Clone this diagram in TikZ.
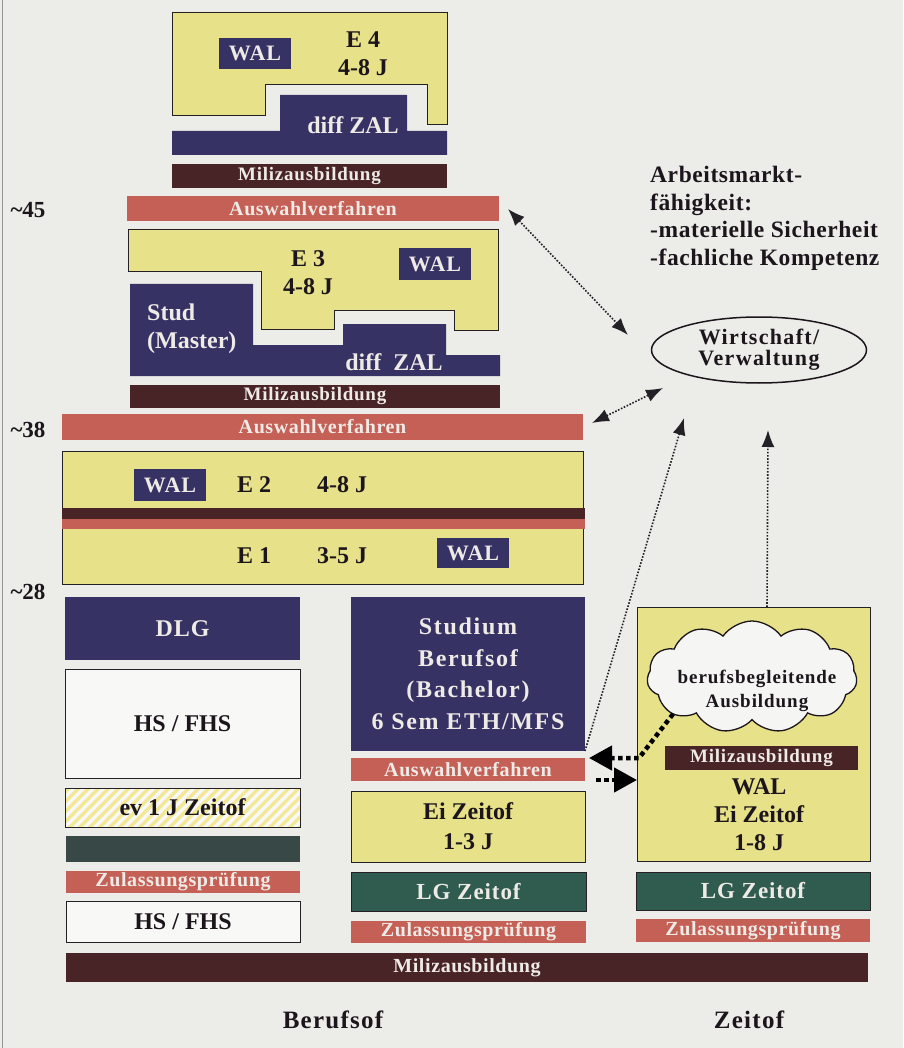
\documentclass[tikz,border=0pt]{standalone}
\usepackage{fontspec}
\setmainfont{Liberation Serif}
\usetikzlibrary{shapes.geometric,shapes.symbols,arrows.meta}
\newcommand\tf[3]{\fontsize{#1}{#2}\selectfont\bfseries\addfontfeatures{LetterSpace=#3}}
\definecolor{cbg}{RGB}{236,236,232}
\definecolor{cyel}{RGB}{231,225,138}
\definecolor{cnav}{RGB}{55,50,100}
\definecolor{cbrn}{RGB}{72,36,38}
\definecolor{cred}{RGB}{196,96,86}
\definecolor{cgrn}{RGB}{48,92,80}
\definecolor{cslate}{RGB}{55,72,70}
\definecolor{cline}{RGB}{35,32,38}
\definecolor{cwht}{RGB}{248,248,246}
\definecolor{ctl}{RGB}{238,234,230}
\definecolor{ctd}{RGB}{28,22,28}
\definecolor{ccloud}{RGB}{245,245,243}
\definecolor{chatch}{RGB}{242,232,150}
\definecolor{cborder}{RGB}{150,150,150}
\tikzset{
  bx/.style={rectangle, inner sep=0pt, outer sep=0pt, anchor=north west, align=center},
  yelbox/.style={bx, fill=cyel, draw=cline, line width=0.8pt, text=ctd, font=\tf{24}{28}{0}},
  navbox/.style={bx, fill=cnav, text=ctl, font=\tf{22}{26}{5}},
  whtbox/.style={bx, fill=cwht, draw=cline, line width=0.8pt, text=ctd, font=\tf{24}{28}{0}},
  brnbar/.style={bx, fill=cbrn, text=ctl, font=\tf{19}{22}{4}},
  redbar/.style={bx, fill=cred, text=ctl, font=\tf{20}{22}{3}},
  grnbar/.style={bx, fill=cgrn, draw=cline, line width=0.6pt, text=ctl, font=\tf{23}{26}{4}},
  lbl/.style={text=ctd, font=\tf{24}{28}{0}, inner sep=0pt, align=center},
  yelshape/.style={fill=cyel, draw=cline, line width=0.8pt},
  thin dots/.style={draw=cline, line width=1.6pt, dash pattern=on 1.6pt off 1.6pt},
  thin arrow/.style={thin dots, -{Latex[length=17pt,width=13pt]}},
  thin dbl/.style={thin dots, {Latex[length=17pt,width=13pt]}-{Latex[length=17pt,width=13pt]}},
  thick arrow/.style={draw=black, line width=4.5pt, dash pattern=on 4.5pt off 3.5pt, -{Triangle[length=23pt,width=24pt]}},
}
\begin{document}
\begin{tikzpicture}[x=1pt,y=-1pt]
\useasboundingbox (0,0) rectangle (903,1048);
\fill[cbg] (0,0) rectangle (903,1048);
\draw[cborder, line width=1pt] (2.5,0) -- (2.5,1048);

% ---------- E4 ----------
\path[yelshape] (172,12) -- (447,12) -- (447,124) -- (427,124) -- (427,84) -- (265,84) -- (265,115) -- (172,115) -- cycle;
\node[navbox, minimum width=72, minimum height=31] (e4wal) at (219,38) {WAL};
\node[lbl] (e4t) at (363,54) {E 4\\4-8 J};
\fill[cnav] (172,131) -- (280,131) -- (280,95) -- (407,95) -- (407,131) -- (447,131) -- (447,155) -- (172,155) -- cycle;
\node[lbl, text=ctl] (e4zal) at (353,125) {diff ZAL};
\node[brnbar, minimum width=275, minimum height=24] (e4miliz) at (172,164) {Milizausbildung};
\node[redbar, minimum width=372, minimum height=25] (aus45) at (127,196) {Auswahlverfahren};
\node[lbl, font=\tf{23}{26}{0}] (l45) at (28,210) {\textasciitilde 45};

% ---------- E3 ----------
\path[yelshape] (128,229) -- (498,229) -- (498,330) -- (454,330) -- (454,310) -- (334,310) -- (334,329) -- (261,329) -- (261,271) -- (128,271) -- cycle;
\node[navbox, minimum width=72, minimum height=32] (e3wal) at (399,248) {WAL};
\node[lbl] (e3t) at (308,273) {E 3\\4-8 J};
\fill[cnav] (130,284) -- (253,284) -- (253,345) -- (343,345) -- (343,324) -- (446,324) -- (446,355) -- (500,355) -- (500,376) -- (130,376) -- cycle;
\node[lbl, text=ctl, align=left, anchor=west] (stud) at (147,329) {Stud\\(Master)};
\node[lbl, text=ctl] (e3zal) at (394,362) {diff\enspace ZAL};
\node[brnbar, minimum width=370, minimum height=23] (e3miliz) at (130,385) {Milizausbildung};
\node[redbar, minimum width=521, minimum height=26] (aus38) at (62,414) {Auswahlverfahren};
\node[lbl, font=\tf{23}{26}{0}] (l38) at (28,430) {\textasciitilde 38};

% ---------- E2 / E1 ----------
\node[yelbox, minimum width=521, minimum height=133] (e21) at (62,451) {};
\fill[cbrn] (62,508) rectangle (585,519);
\fill[cred] (62,519) rectangle (585,529);
\node[navbox, minimum width=72, minimum height=32] (e2wal) at (134,469) {WAL};
\node[lbl] (e2) at (254,485) {E 2};
\node[lbl] (e2j) at (342,485) {4-8 J};
\node[lbl] (e1) at (254,556) {E 1};
\node[lbl] (e1j) at (342,556) {3-5 J};
\node[navbox, minimum width=72, minimum height=30] (e1wal) at (437,538) {WAL};
\node[lbl, font=\tf{23}{26}{0}] (l28) at (28,592) {\textasciitilde 28};

% ---------- left column ----------
\node[navbox, font=\tf{24}{28}{4}, minimum width=235, minimum height=63] (dlg) at (65,597) {DLG};
\node[whtbox, minimum width=235, minimum height=109] (hs1) at (65,669) {HS / FHS};
\node[whtbox, fill=cwht, minimum width=235, minimum height=39] (ev) at (65,788) {};
\begin{scope}
\clip (65,788) rectangle (300,827);
\foreach \i in {0,...,30} {\draw[chatch, line width=3.2pt] (25+\i*10,832) -- ++(48,-48);}
\end{scope}
\draw[cline, line width=0.8pt] (65,788) rectangle (300,827);
\node[lbl] (evt) at (ev.center) {ev 1 J Zeitof};
\node[bx, fill=cslate, minimum width=234, minimum height=26] (grnl) at (66,836) {};
\node[redbar, minimum width=234, minimum height=22] (zull) at (66,871) {Zulassungsprüfung};
\node[whtbox, minimum width=234, minimum height=41] (hs2) at (66,901) {HS / FHS};

% ---------- middle column ----------
\node[navbox, font=\tf{24}{31.5}{7}, minimum width=234, minimum height=154] (studium) at (351,597) {Studium\\Berufsof\\(Bachelor)\\6 Sem ETH/MFS};
\node[redbar, minimum width=234, minimum height=23] (ausm) at (351,758) {Auswahlverfahren};
\node[yelbox, font=\tf{24}{30}{0}, minimum width=234, minimum height=71] (eim) at (351,791) {Ei Zeitof\\1-3 J};
\node[grnbar, minimum width=235, minimum height=39] (lgm) at (351,872) {LG Zeitof};
\node[redbar, minimum width=235, minimum height=22] (zulm) at (351,921) {Zulassungsprüfung};

% ---------- right column ----------
\node[yelbox, minimum width=233, minimum height=254] (eir) at (637,607) {};
\node[cloud, cloud puffs=11, cloud puff arc=110, aspect=1.85, draw=ctd, line width=1.3pt, fill=ccloud,
      minimum width=210, minimum height=112, inner sep=0pt] (cloud) at (752,677) {};
\node[lbl, font=\tf{19}{24}{5}] (cloudt) at (757,691) {berufsbegleitende\\Ausbildung};
\node[brnbar, minimum width=193, minimum height=24] (mzr) at (665,746) {Milizausbildung};
\node[lbl, font=\tf{24}{28}{0}] (eirt) at (759,815) {WAL\\Ei Zeitof\\1-8 J};
\node[grnbar, minimum width=234, minimum height=38] (lgr) at (636,872) {LG Zeitof};
\node[redbar, minimum width=234, minimum height=23] (zulr) at (636,919) {Zulassungsprüfung};

% ---------- bottom ----------
\node[brnbar, font=\tf{20}{22}{3}, minimum width=802, minimum height=29] (mzb) at (66,953) {Milizausbildung};
\node[lbl, font=\tf{25}{28}{5}] (berufsof) at (333,1020) {Berufsof};
\node[lbl, font=\tf{25}{28}{5}] (zeitof) at (749,1020) {Zeitof};

% ---------- right text ----------
\node[lbl, align=left, anchor=north west, font=\tf{23.5}{27.5}{2.5}] (amf) at (650,166)
  {Arbeitsmarkt-\\fähigkeit:\\-materielle Sicherheit\\-fachliche Kompetenz};
\node[ellipse, draw=ctd, line width=1.5pt, minimum width=215, minimum height=66, inner sep=0pt,
      text=ctd, align=center, font=\tf{22}{21}{6}] (wv) at (759,350) {Wirtschaft/\\Verwaltung};

% ---------- connectors ----------
\coordinate (a1s) at (508,209);
\coordinate (a1e) at (628,335);
\coordinate (a2s) at (592,423);
\coordinate (a2e) at (663,388);
\coordinate (a3e) at (684,418);
\coordinate (a4s) at (767,607);
\coordinate (a4e) at (768,430);
\coordinate (a5s) at (673,714);
\coordinate (a5m) at (639,758);
\coordinate (a5e) at (589,758);
\coordinate (a6s) at (596,780);
\coordinate (a6e) at (637,780);
\draw[thin dbl] (a1s) -- (a1e);
\draw[thin dbl] (a2s) -- (a2e);
\draw[thin arrow] (studium.south east) -- (a3e);
\draw[thin arrow] (a4s) -- (a4e);
\draw[thick arrow] (a5s) -- (a5m) -- (a5e);
\draw[thick arrow] (a6s) -- (a6e);
\end{tikzpicture}
\end{document}
